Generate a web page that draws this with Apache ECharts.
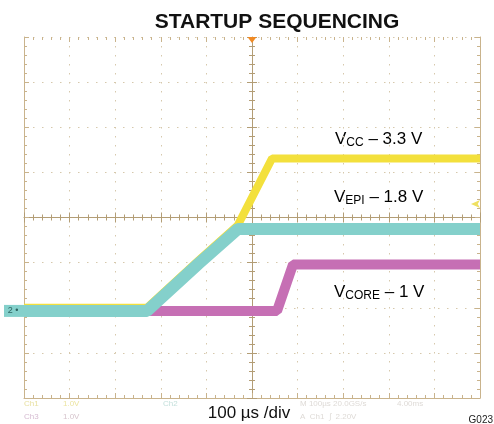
<!DOCTYPE html>
<html><head><meta charset="utf-8">
<script src="https://cdn.jsdelivr.net/npm/echarts@6/dist/echarts.min.js"></script>
<style>html,body{margin:0;padding:0;background:#fff}#c{width:494px;height:424px}</style>
</head><body><div id="c"></div>
<script>
// time in µs (100 µs/div), voltage in V (1 V/div)
const timeVcc  = [0, 270, 382, 469, 544, 1000];
const vcc      = [0.0, 0.0, 1.04, 1.83, 3.31, 3.31];
const timeVepi = [0, 270, 382, 469, 1000];
const vepi     = [-0.07, -0.07, 0.97, 1.745, 1.745];
const timeVcore= [0, 555, 590, 1000];
const vcore    = [-0.07, -0.07, 0.96, 0.96];
const xRange = [0, 1000, 100];
const yRange = [-2, 6, 1];
const triggerTime = 500;
const triggerLevel = 2.3;

const pair = (t, v) => t.map((x, i) => [x, v[i]]);
const tan = '#c9b38c', tanDark = '#b39d75', dotC = '#d6c8ac';
const FONT = 'Liberation Sans, Arial, sans-serif';

function xAx(pos, offset, inside, showLine, split, len) {
  return {type:'value', min:xRange[0], max:xRange[1], interval:xRange[2], position:pos, offset:offset,
    axisLine:{show:showLine, onZero:false, lineStyle:{color: offset ? tanDark : tan, width:1}},
    axisTick:{show:true, inside:inside, length:len[0], lineStyle:{color: offset ? tanDark : tan}},
    minorTick:{show:true, splitNumber:5, length:len[1], lineStyle:{color: offset ? tanDark : tan}},
    axisLabel:{show:false},
    splitLine:{show:split, lineStyle:{color:dotC, type:[1.5,7.5], width:1}}};
}
function yAx(pos, offset, inside, showLine, split, len) {
  return {type:'value', min:yRange[0], max:yRange[1], interval:yRange[2], position:pos, offset:offset,
    axisLine:{show:showLine, onZero:false, lineStyle:{color: offset ? tanDark : tan, width:1}},
    axisTick:{show:true, inside:inside, length:len[0], lineStyle:{color: offset ? tanDark : tan}},
    minorTick:{show:true, splitNumber:5, length:len[1], lineStyle:{color: offset ? tanDark : tan}},
    axisLabel:{show:false},
    splitLine:{show:split, lineStyle:{color:dotC, type:[1.5,7.5], width:1}}};
}

const chart = echarts.init(document.getElementById('c'), null, {renderer:'canvas'});
const sub = (fs) => ({fontSize:fs, fontFamily:FONT, color:'#111', padding:[7,0,0,0]});
const main = {fontSize:17, fontFamily:FONT, color:'#111'};
function label(x, y, s, rest) {
  return {type:'text', x:x, y:y, style:{text:'{a|V}{b|'+s+'}{a|'+rest+'}', verticalAlign:'middle',
    rich:{a:main, b:sub(12)}}};
}
const faint = (x, y, t, c) => ({type:'text', x:x, y:y, style:{text:t, fill:c, font:'8px '+FONT, verticalAlign:'middle'}});

chart.setOption({
  animation:false,
  grid:{left:24, right:14, top:37, bottom:26},
  xAxis:[
    xAx('bottom', 0, true, true, true, [5,3]),
    xAx('top', 0, true, false, false, [5,3]),
    xAx('top', -180.5, true, true, false, [5,3]),
    xAx('top', -180.5, false, false, false, [5,3])
  ],
  yAxis:[
    yAx('left', 0, true, true, true, [5,3]),
    yAx('right', 0, true, true, false, [5,3]),
    yAx('left', -228, true, true, false, [5,3]),
    yAx('left', -228, false, false, false, [5,3])
  ],
  series:[
    {type:'line', name:'VCC', data:pair(timeVcc, vcc), symbol:'none', clip:false,
      lineStyle:{color:'#f3e03c', width:8}, z:3,
      markPoint:{symbol:'arrow', symbolRotate:90, symbolSize:[6,9], symbolOffset:[-9,0], silent:true,
        itemStyle:{color:'#efe060'}, label:{show:false},
        data:[{coord:[xRange[1], triggerLevel]}]}},
    {type:'line', name:'VCORE', data:pair(timeVcore, vcore), symbol:'none',
      lineStyle:{color:'#c66fb4', width:10}, z:4},
    {type:'line', name:'VEPI', data:pair(timeVepi, vepi), symbol:'none',
      lineStyle:{color:'#84d0cb', width:12}, z:5,
      markPoint:{silent:true, data:[
        {coord:[xRange[0], vepi[0]], symbol:'rect', symbolSize:[20,12], symbolOffset:[-10,0],
          itemStyle:{color:'#84d0cb'},
          label:{show:true, formatter:'2 •', color:'#2d6461', fontSize:9, fontFamily:FONT, offset:[-1,0]}},
        {coord:[triggerTime, yRange[1]], symbol:'triangle', symbolRotate:180, symbolSize:[9,6], symbolOffset:[0,3],
          itemStyle:{color:'#f08a24'}, label:{show:false}}
      ]}}
  ],
  graphic:[
    {type:'text', x:277, y:22, style:{text:'STARTUP SEQUENCING', font:'bold 21px '+FONT, fill:'#111', align:'center', verticalAlign:'middle'}},
    label(335, 139, 'CC', ' – 3.3 V'),
    label(334, 197, 'EPI', ' – 1.8 V'),
    label(334, 292, 'CORE', ' – 1 V'),
    {type:'text', x:249, y:413, style:{text:'100 µs /div', font:'17px '+FONT, fill:'#111', align:'center', verticalAlign:'middle'}},
    {type:'text', x:493, y:420, style:{text:'G023', font:'10px '+FONT, fill:'#222', align:'right', verticalAlign:'middle'}},
    faint(24, 404, 'Ch1', '#e8e0a0'), faint(63, 404, '1.0V', '#ece4a0'),
    faint(24, 417, 'Ch3', '#d6bcd2'), faint(63, 417, '1.0V', '#d6c4cc'),
    faint(163, 404, 'Ch2', '#c4e0dc'),
    faint(300, 404, 'M 100µs 20.0GS/s', '#dedad6'), faint(397, 404, '4.00ms', '#dedad6'),
    faint(300, 417, 'A  Ch1  ∫  2.20V', '#dedad6')
  ]
});
</script></body></html>
